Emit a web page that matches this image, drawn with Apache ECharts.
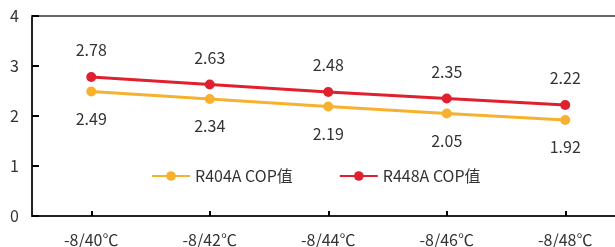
<!DOCTYPE html>
<html>
<head>
<meta charset="utf-8">
<script src="https://cdn.jsdelivr.net/npm/echarts@6/dist/echarts.min.js"></script>
<style>
    html, body { margin: 0; padding: 0; background: #fff; }
    #main { width: 615px; height: 247px; }
</style>
</head>
<body>
<div id="main"></div>
<script>
// 工况
var categories = ['-8/40℃', '-8/42℃', '-8/44℃', '-8/46℃', '-8/48℃'];
var r404a = [2.49, 2.34, 2.19, 2.05, 1.92];
var r448a = [2.78, 2.63, 2.48, 2.35, 2.22];
var names = ['R404A COP值', 'R448A COP值'];
var colors = ['#F6B22F', '#E1202F'];

var font = '"Noto Sans CJK SC", "Noto Sans", sans-serif';

var chart = echarts.init(document.getElementById('main'));
var option = {
    animation: false,
    color: colors,
    textStyle: { fontFamily: font },
    legend: {
        data: names,
        left: 146,
        top: 163,
        itemWidth: 38,
        itemHeight: 12,
        itemGap: 46,
        textStyle: { fontSize: 16, color: '#333', fontFamily: font }
    },
    grid: {
        left: 32,
        width: 592.5,
        top: 16,
        bottom: 31,
        containLabel: false,
        outerBoundsMode: 'none'
    },
    xAxis: [{
        type: 'category',
        data: categories,
        boundaryGap: true,
        axisLine: { show: true, lineStyle: { color: '#222', width: 2 } },
        axisTick: { show: true, interval: 0, alignWithLabel: true, inside: true, length: 5, lineStyle: { color: '#000', width: 2 } },
        axisLabel: { fontSize: 16, color: '#333', margin: 16, fontFamily: font },
        splitLine: { show: false }
    }, {
        type: 'category',
        position: 'top',
        data: categories,
        axisLine: { lineStyle: { color: '#666', width: 2 } },
        axisTick: { show: false },
        axisLabel: { show: false }
    }],
    yAxis: [{
        type: 'value',
        min: 0,
        max: 4,
        interval: 1,
        axisLine: { show: true, lineStyle: { color: '#222', width: 2 } },
        axisTick: { show: true, inside: true, length: 7, lineStyle: { color: '#000', width: 2, opacity: 1 } },
        axisLabel: { fontSize: 16, color: '#333', margin: 13, fontFamily: font },
        splitLine: { show: false }
    }],
    series: [{
        name: names[0],
        type: 'line',
        data: r404a,
        symbol: 'circle',
        symbolSize: 10,
        lineStyle: { width: 3 },
        label: { show: true, position: 'bottom', distance: 14, fontSize: 16, color: '#333', fontFamily: font }
    }, {
        name: names[1],
        type: 'line',
        data: r448a,
        symbol: 'circle',
        symbolSize: 10,
        lineStyle: { width: 3 },
        label: { show: true, position: 'top', distance: 14, fontSize: 16, color: '#333', fontFamily: font }
    }]
};
chart.setOption(option);
</script>
</body>
</html>
